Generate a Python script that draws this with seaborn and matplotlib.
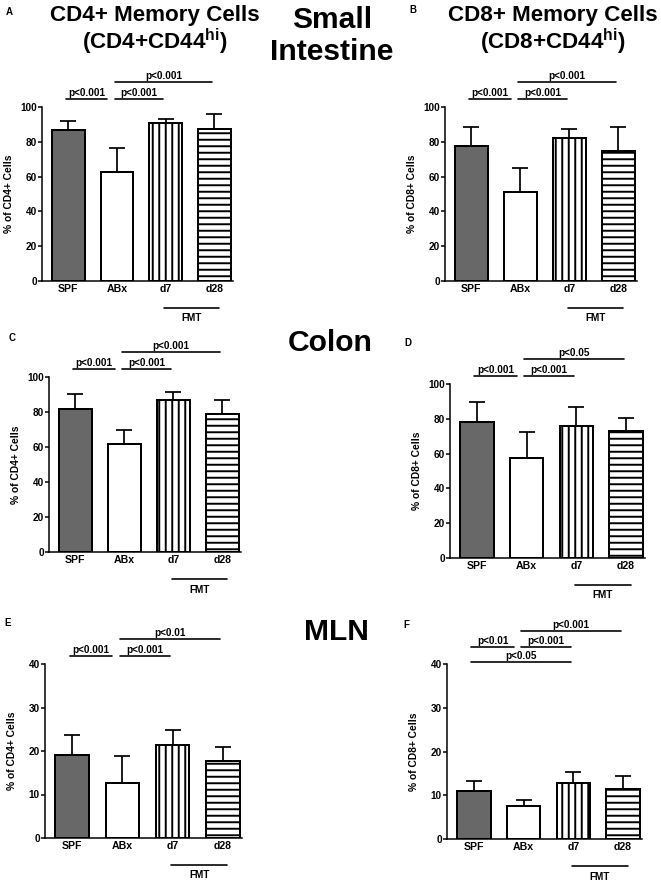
import numpy as np
import matplotlib
matplotlib.use("Agg")
import matplotlib.pyplot as plt
import matplotlib.transforms as mtransforms
import seaborn as sns

# categories on the x axis
groups = ["SPF", "ABx", "d7", "d28"]

# bar heights (mean) and upper error bar length
si_cd4_mean = [86.5, 62.7, 90.7, 87.2]
si_cd4_err = [5.5, 13.5, 2.3, 9.0]
si_cd8_mean = [77.5, 51.0, 82.0, 74.5]
si_cd8_err = [11.0, 13.7, 5.5, 14.0]
colon_cd4_mean = [81.7, 61.5, 87.0, 79.0]
colon_cd4_err = [8.8, 8.4, 4.5, 7.7]
colon_cd8_mean = [78.2, 57.2, 76.0, 72.8]
colon_cd8_err = [11.5, 15.5, 10.8, 7.9]
mln_cd4_mean = [19.0, 12.6, 21.3, 17.7]
mln_cd4_err = [4.6, 6.2, 3.6, 3.2]
mln_cd8_mean = [11.0, 7.5, 12.7, 11.5]
mln_cd8_err = [2.2, 1.5, 2.6, 2.8]

# significance brackets: (group i, group j, level, label)
si_cd4_sig = [(0, 1, 0, "p<0.001"), (1, 2, 0, "p<0.001"), (1, 3, 1, "p<0.001")]
si_cd8_sig = [(0, 1, 0, "p<0.001"), (1, 2, 0, "p<0.001"), (1, 3, 1, "p<0.001")]
colon_cd4_sig = [(0, 1, 0, "p<0.001"), (1, 2, 0, "p<0.001"), (1, 3, 1, "p<0.001")]
colon_cd8_sig = [(0, 1, 0, "p<0.001"), (1, 2, 0, "p<0.001"), (1, 3, 1, "p<0.05")]
mln_cd4_sig = [(0, 1, 0, "p<0.001"), (1, 2, 0, "p<0.001"), (1, 3, 1, "p<0.01")]
mln_cd8_sig = [(0, 2, 0, "p<0.05"), (0, 1, 1, "p<0.01"), (1, 2, 1, "p<0.001"),
               (1, 3, 2, "p<0.001")]

DPI = 78  # hatch spacing in Agg scales with dpi
W, H = 661, 886

sns.set_style("ticks")
plt.rcParams["font.family"] = ["Liberation Sans", "DejaVu Sans"]
plt.rcParams["font.weight"] = "bold"
plt.rcParams["hatch.linewidth"] = 1.8
plt.rcParams["mathtext.fontset"] = "custom"
plt.rcParams["mathtext.rm"] = "Liberation Sans:bold"
plt.rcParams["mathtext.bf"] = "Liberation Sans:bold"
for key in ["text.color", "axes.labelcolor", "xtick.color", "ytick.color",
            "axes.edgecolor"]:
    plt.rcParams[key] = "black"

fig = plt.figure(figsize=(W / DPI, H / DPI), dpi=DPI)
fig.patch.set_facecolor("white")


def px_box(x0, x1, ytop, ybot):
    return [x0 / W, 1 - ybot / H, (x1 - x0) / W, (ybot - ytop) / H]


fill_colors = ["#686868", "white", "white", "white"]
hatches = ["", "", "||", "--"]


def draw_panel(rect, means, errs, sig, ylabel, ymax, ystep,
               sig_base=1.048, sig_step=0.097):
    ax = fig.add_axes(rect)
    sns.barplot(x=groups, y=means, ax=ax, width=0.67, color="white",
                edgecolor="black", linewidth=1.85, errorbar=None)
    for patch, fc, h in zip(ax.patches, fill_colors, hatches):
        patch.set_facecolor(fc)
        patch.set_hatch(h)
    ax.errorbar(np.arange(len(groups)), means,
                yerr=[np.zeros(len(errs)), errs], fmt="none",
                ecolor="black", elinewidth=1.6, capsize=7.4, capthick=1.6,
                zorder=3)

    ax.set_xlim(-0.54, 3.38)
    ax.set_ylim(0, ymax)
    ax.set_yticks(np.arange(0, ymax + 1, ystep))
    sns.despine(ax=ax)
    for side in ["left", "bottom"]:
        ax.spines[side].set_linewidth(1.4)
        ax.spines[side].set_color("black")
    ax.tick_params(axis="x", length=0, pad=3, labelsize=9.7)
    ax.tick_params(axis="y", length=3.7, width=1.4, pad=1, labelsize=9.2)
    for lab in ax.get_xticklabels() + ax.get_yticklabels():
        lab.set_fontweight("bold")
    ax.set_xlabel("")
    ax.set_ylabel(ylabel, fontsize=9.5, fontweight="bold")
    width_px = rect[2] * W
    ax.yaxis.set_label_coords(-28 / width_px, 0.5)

    trans = mtransforms.blended_transform_factory(ax.transData, ax.transAxes)
    starts = {(lvl, i) for i, j, lvl, _ in sig}
    for i, j, lvl, label in sig:
        x1 = i - 0.05
        x2 = j - 0.05 - (0.15 if (lvl, j) in starts else 0)
        y = sig_base + lvl * sig_step
        ax.plot([x1, x2], [y, y], color="black", lw=1.5,
                transform=trans, clip_on=False)
        ax.annotate(label, xy=((x1 + x2) / 2, y), xycoords=trans,
                    xytext=(0, 0.8), textcoords="offset points",
                    ha="center", va="bottom", fontsize=9.2, fontweight="bold")

    # FMT grouping line under d7 and d28
    x1 = groups.index("d7") - 0.03
    x2 = groups.index("d28") + 0.09
    ax.plot([x1, x2], [-0.155, -0.155], color="black", lw=1.5,
            transform=trans, clip_on=False)
    ax.text((x1 + x2) / 2, -0.215, "FMT", transform=trans, ha="center",
            va="center", fontsize=9.2, fontweight="bold")
    return ax


draw_panel(px_box(42, 233, 107, 281), si_cd4_mean, si_cd4_err, si_cd4_sig,
           "% of CD4+ Cells", 100, 20)
draw_panel(px_box(445, 637, 107, 281), si_cd8_mean, si_cd8_err, si_cd8_sig,
           "% of CD8+ Cells", 100, 20)
draw_panel(px_box(49, 241, 377, 552), colon_cd4_mean, colon_cd4_err,
           colon_cd4_sig, "% of CD4+ Cells", 100, 20)
draw_panel(px_box(450, 645, 384, 558), colon_cd8_mean, colon_cd8_err,
           colon_cd8_sig, "% of CD8+ Cells", 100, 20)
draw_panel(px_box(45, 242, 664, 838), mln_cd4_mean, mln_cd4_err, mln_cd4_sig,
           "% of CD4+ Cells", 40, 10)
draw_panel(px_box(447, 642, 664, 839), mln_cd8_mean, mln_cd8_err, mln_cd8_sig,
           "% of CD8+ Cells", 40, 10, sig_base=1.011, sig_step=0.088)


def ftext(x, y, s, size, **kw):
    fig.text(x / W, 1 - y / H, s, ha="center", va="center", fontsize=size,
             fontweight="bold", color="black", **kw)


# column titles
ftext(155, 15, "CD4+ Memory Cells", 20.7)
ftext(155, 42, r"(CD4+CD44$^{\mathbf{hi}}$)", 20.7)
ftext(553, 15, "CD8+ Memory Cells", 20.7)
ftext(553, 42, r"(CD8+CD44$^{\mathbf{hi}}$)", 20.7)

# tissue labels
ftext(332, 36, "Small\nIntestine", 27.7, linespacing=1.15)
ftext(330, 343, "Colon", 27.7)
ftext(336, 632, "MLN", 27.7)

# panel letters
for letter, x, y in [("A", 9, 12), ("B", 413, 10), ("C", 12, 338),
                     ("D", 408, 343), ("E", 8, 623), ("F", 406, 625)]:
    ftext(x, y, letter, 9)

fig.savefig("out.png", dpi=DPI, facecolor="white")
